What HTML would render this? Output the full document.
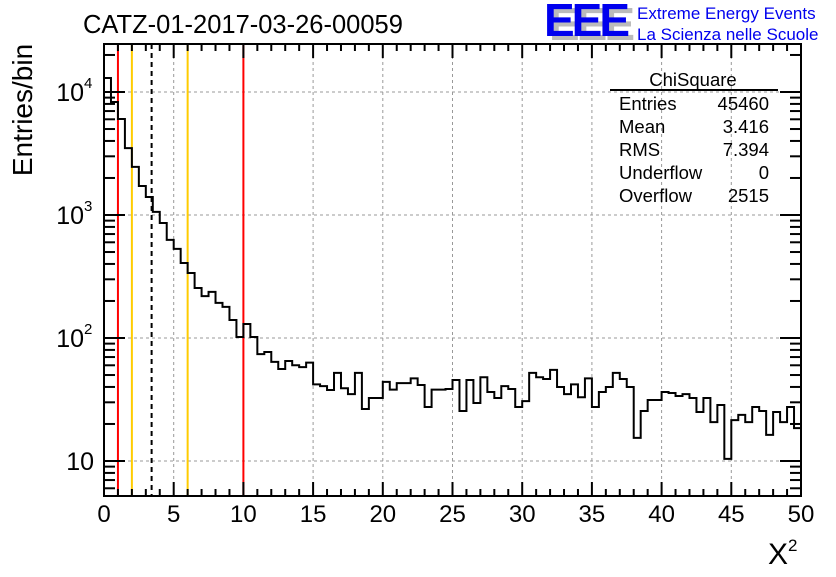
<!DOCTYPE html>
<html><head><meta charset="utf-8"><style>
body{margin:0;background:#fff;}
svg text{font-family:"Liberation Sans",sans-serif;}
</style></head><body>
<svg id="chart" width="836" height="572" viewBox="0 0 836 572" xmlns="http://www.w3.org/2000/svg">
<rect width="836" height="572" fill="#fff"/>
<g id="grid"></g>
<g id="vlines"></g>
<path id="hist" fill="none" stroke="#000" stroke-width="2"/>
<g id="axes"></g>
<text x="83" y="33" font-size="25.5">CATZ-01-2017-03-26-00059</text>
<g>
<text x="549" y="40" font-size="46" font-weight="bold" fill="#bbb" letter-spacing="-3">EEE</text>
<text x="544" y="36" font-size="46" font-weight="bold" fill="#0000ee" letter-spacing="-3">EEE</text>
<text x="637" y="19" font-size="17" fill="#0000ee">Extreme Energy Events</text>
<text x="637" y="40" font-size="17" fill="#0000ee">La Scienza nelle Scuole</text>
</g>
<g font-size="18.5">
<text x="693" y="86" text-anchor="middle">ChiSquare</text>
<line x1="610" y1="90" x2="778" y2="90" stroke="#000" stroke-width="2"/>
<text x="619" y="110">Entries</text><text x="769" y="110" text-anchor="end">45460</text>
<text x="619" y="133">Mean</text><text x="769" y="133" text-anchor="end">3.416</text>
<text x="619" y="156">RMS</text><text x="769" y="156" text-anchor="end">7.394</text>
<text x="619" y="179">Underflow</text><text x="769" y="179" text-anchor="end">0</text>
<text x="619" y="202">Overflow</text><text x="769" y="202" text-anchor="end">2515</text>
</g>
<text transform="translate(32,110) rotate(-90)" text-anchor="middle" font-size="28">Entries/bin</text>
<text x="768" y="564" font-size="30" font-family="Liberation Serif,serif">X<tspan font-size="17" dy="-13">2</tspan></text>
</svg>
<script>
const counts=[13000,8300,6030,3500,2460,1720,1400,1060,860,627,530,407,338,255,219,237,193,179,140,102,130,102,74,77,64,56,65,60,58,63,42,40.6,37.8,52,39,35,52,26.5,32.5,32.5,44,38,43,43,47,41.5,27.5,38,38,38.5,45.6,25.5,45.6,29.6,48,36.4,32.5,40.6,38.5,27.5,30.7,52,48,46.4,55,40,35,42,33,47,27.5,36.4,40,52,46.4,40,15.4,25.5,31.3,31.3,36.4,35.7,33.8,35,32.5,25,32.5,20.7,28.5,10.4,21.5,23.7,20.7,27.5,25.5,16.3,25,20.7,27.5,18.5];
const xTicks=[0,5,10,15,20,25,30,35,40,45,50];
const yDecades=[10,100,1000,10000];
const yDecadeExp=["","2","3","4"];
const markers=[{x:1,c:"#ff0000",d:""},{x:2,c:"#ffcc00",d:""},{x:3.416,c:"#000",d:"5,4"},{x:6,c:"#ffcc00",d:""},{x:10,c:"#ff0000",d:""}];
const binWidth=0.5;
const L=104,R=801,T=44,B=496;
const xs=v=>L+(v/50)*(R-L);
const ys=v=>461-123*(Math.log10(v)-1);
const NS="http://www.w3.org/2000/svg";
function mk(tag,attrs,parent){const e=document.createElementNS(NS,tag);for(const k in attrs)e.setAttribute(k,attrs[k]);parent.appendChild(e);return e;}
const grid=document.getElementById('grid'),axes=document.getElementById('axes'),vl=document.getElementById('vlines');
xTicks.slice(1,-1).forEach(t=>{const l=mk('line',{x1:xs(t),x2:xs(t),y1:T,y2:B,stroke:'#999','stroke-dasharray':'3,3'},grid);

});
yDecades.forEach(t=>{const l=mk('line',{x1:L,x2:R,y1:ys(t),y2:ys(t),stroke:'#999','stroke-dasharray':'3,3'},grid);

});
markers.forEach(m=>{const l=mk('line',{x1:xs(m.x),x2:xs(m.x),y1:T,y2:B,stroke:m.c,'stroke-width':2,'stroke-dasharray':m.d},vl);

});
let d='';counts.forEach((c,i)=>{const y=Math.min(ys(c),B);const x0=xs(i*binWidth),x1=xs((i+1)*binWidth);d+=(i===0?'M'+x0+','+B+'L'+x0+','+y:'L'+x0+','+y)+'L'+x1+','+y;});
document.getElementById('hist').setAttribute('d',d);
mk('rect',{x:L,y:T,width:R-L,height:B-T,fill:'none',stroke:'#000','stroke-width':2},axes);
for(let v=0;v<=50;v++){const big=v%5===0;const len=big?14:7;
mk('line',{x1:xs(v),x2:xs(v),y1:B,y2:B-len,stroke:'#000','stroke-width':2},axes);
mk('line',{x1:xs(v),x2:xs(v),y1:T,y2:T+len,stroke:'#000','stroke-width':2},axes);}
xTicks.forEach(t=>{const tx=mk('text',{x:xs(t),y:522,'text-anchor':'middle','font-size':24},axes);tx.textContent=t;

});
for(let e=0;e<=4;e++){for(let k=1;k<=9;k++){const v=k*Math.pow(10,e);const y=ys(v);if(y<T||y>B)continue;const len=k===1?21:11;
mk('line',{x1:L,x2:L+len,y1:y,y2:y,stroke:'#000','stroke-width':2},axes);
mk('line',{x1:R,x2:R-len,y1:y,y2:y,stroke:'#000','stroke-width':2},axes);}}
yDecades.forEach((t,i)=>{const ex=yDecadeExp[i];const tx=mk('text',{x:ex?84:94,y:ys(t)+9,'text-anchor':'end','font-size':25},axes);tx.textContent='10';


if(ex){const s=mk('text',{x:84,y:ys(t)-4,'font-size':15},axes);s.textContent=ex;

}});
</script>
</body></html>
